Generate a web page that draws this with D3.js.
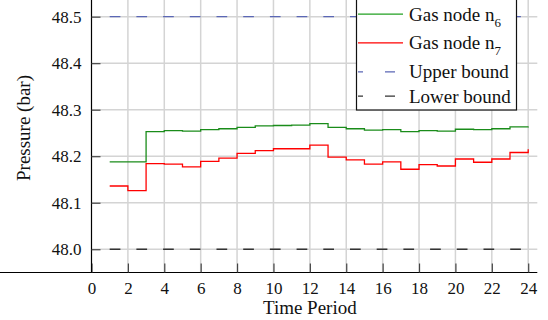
<!DOCTYPE html>
<html><head><meta charset="utf-8">
<script src="https://cdn.jsdelivr.net/npm/d3@7"></script>
<style>body{margin:0;background:#fff}svg{display:block}svg text{font-family:"Liberation Serif","Times New Roman",serif !important;fill:#111}</style>
</head><body>
<script>
const periods = d3.range(1, 25);
const node6 = [48.188,48.188,48.253,48.255,48.254,48.257,48.259,48.262,48.265,48.266,48.267,48.270,
               48.262,48.259,48.256,48.257,48.253,48.255,48.254,48.258,48.257,48.259,48.263,48.264];
const node7 = [48.136,48.126,48.184,48.183,48.177,48.189,48.196,48.206,48.212,48.216,48.216,48.224,
               48.198,48.192,48.183,48.188,48.172,48.182,48.179,48.194,48.187,48.194,48.208,48.215];
const upperBound = 48.5, lowerBound = 48.0;
const xTicks = d3.range(0, 25, 2);
const yTicks = [48.0, 48.1, 48.2, 48.3, 48.4, 48.5];
const legendLabels = [["Gas node n", "6"], ["Gas node n", "7"], ["Upper bound", ""], ["Lower bound", ""]];

const W = 548, H = 320;
const svg = d3.select("body").append("svg").attr("width", W).attr("height", H);
const x = d3.scaleLinear().domain([0, 24.5]).range([91.5, 537.3]);
const y = d3.scaleLinear().domain([47.95, 48.55]).range([272.5, -6.6]);

// grid
const g = svg.append("g");
g.selectAll(".vg").data(xTicks.filter(d => d > 0)).join("line")
  .attr("x1", d => x(d)).attr("x2", d => x(d)).attr("y1", y(47.95)).attr("y2", 0)
  .attr("stroke", "#d4d4d4").attr("stroke-width", 1.5);
g.selectAll(".hg").data(yTicks).join("line")
  .attr("x1", x(0)).attr("x2", x(24.5)).attr("y1", d => y(d)).attr("y2", d => y(d))
  .attr("stroke", "#d4d4d4").attr("stroke-width", 1.5);

// bounds
const xs = [periods[0], periods[periods.length - 1]];
svg.append("line").attr("x1", x(xs[0])).attr("x2", x(xs[1])).attr("y1", y(upperBound)).attr("y2", y(upperBound))
  .attr("stroke", "#5b67b5").attr("stroke-width", 1.4).attr("stroke-dasharray", "10.7,16");
svg.append("line").attr("x1", x(xs[0])).attr("x2", x(xs[1])).attr("y1", y(lowerBound)).attr("y2", y(lowerBound))
  .attr("stroke", "#333").attr("stroke-width", 1.4).attr("stroke-dasharray", "10.7,16");

// step lines
const line = d3.line().x((d, i) => x(periods[i])).y(d => y(d)).curve(d3.curveStepAfter);
svg.append("path").datum(node6).attr("d", line).attr("fill", "none").attr("stroke", "#1a8c1a").attr("stroke-width", 1.3);
svg.append("path").datum(node7).attr("d", line).attr("fill", "none").attr("stroke", "#ff0000").attr("stroke-width", 1.3);

// axes
const xAxis = d3.axisBottom(x).tickValues(xTicks).tickSize(-9).tickPadding(12).tickFormat(d3.format("d"));
const xa = svg.append("g").attr("transform", `translate(0,${y(47.95)})`).call(xAxis);
const yAxis = d3.axisLeft(y).tickValues(yTicks).tickSize(-9).tickPadding(10).tickFormat(d3.format(".1f"));
const ya = svg.append("g").attr("transform", `translate(${x(0)},0)`).call(yAxis);
[xa, ya].forEach(a => {
  a.attr("font-family", null).attr("font-size", null);
  a.select(".domain").attr("stroke", "#000").attr("stroke-width", 1.2);
  a.selectAll(".tick line").attr("stroke", "#444").attr("stroke-width", 1.2);
  a.selectAll(".tick text").style("font-family", "'Liberation Serif', serif").style("font-size", "17px").attr("fill", "#111");
});
xa.selectAll(".tick text").attr("y", 21).attr("dy", null);
ya.selectAll(".tick text").attr("x", -10).attr("dy", "0.33em");
ya.select(".domain").attr("d", `M0,${y(47.95)}V-10`);
xa.select(".domain").attr("d", `M0,0H${x(24.5)}`);

// axis titles
svg.append("text").attr("x", x(12)).attr("y", 314).attr("text-anchor", "middle").style("font-size", "19px").text("Time Period");
svg.append("text").attr("transform", "translate(30,128) rotate(-90)").attr("text-anchor", "middle").style("font-size", "19px").text("Pressure (bar)");

// legend
const lg = svg.append("g");
lg.append("rect").attr("x", 356.5).attr("y", -2).attr("width", 160).attr("height", 112)
  .attr("fill", "#fff").attr("stroke", "#111").attr("stroke-width", 1.2);
const legendStyles = [
  {stroke: "#22a022", dash: null}, {stroke: "#ff0000", dash: null},
  {stroke: "#5b67b5", dash: "5,22,10,30"}, {stroke: "#333", dash: "5,22,10,30"}];
const baselines = [20.7, 49.3, 78.3, 102.7];
legendLabels.forEach((lab, i) => {
  const by = baselines[i];
  lg.append("line").attr("x1", 358).attr("x2", 403).attr("y1", by - 6.5).attr("y2", by - 6.5)
    .attr("stroke", legendStyles[i].stroke).attr("stroke-width", 1.3)
    .attr("stroke-dasharray", legendStyles[i].dash);
  const t = lg.append("text").attr("x", 409).attr("y", by).style("font-size", "19px");
  t.append("tspan").text(lab[0]);
  if (lab[1]) t.append("tspan").attr("dy", 6).style("font-size", "13px").text(lab[1]);
});
</script>
</body></html>
